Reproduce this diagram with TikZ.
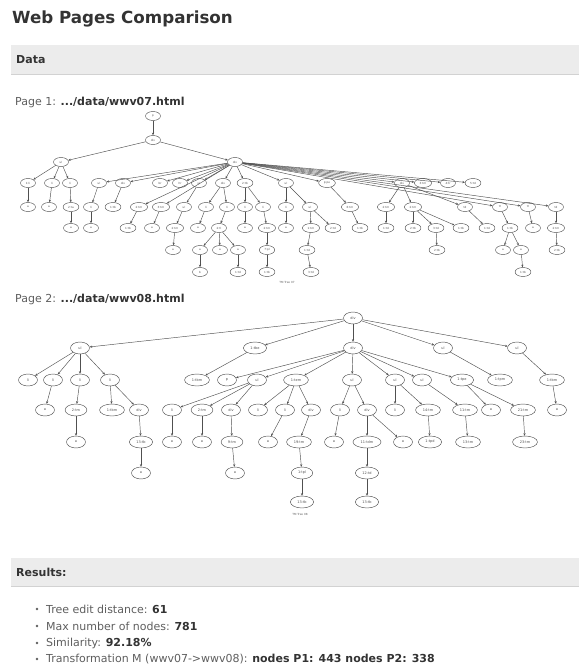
\documentclass[tikz,border=0pt]{standalone}
\usepackage{fontspec}
\setmainfont{DejaVu Sans}
\usetikzlibrary{arrows.meta, shapes.geometric}
\definecolor{wptext}{HTML}{333333}
\definecolor{wpgray}{HTML}{5E5E5E}
\definecolor{wpbar}{HTML}{ECECEC}
\definecolor{wpline}{HTML}{D2D2D2}
\definecolor{wpedge}{HTML}{505050}

\begin{document}
\begin{tikzpicture}[x=1pt, y=-1pt, text=wptext,
     bar/.style={fill=wpbar, draw=none},
     barlbl/.style={anchor=west, font=\fontsize{11}{13}\selectfont\bfseries, inner sep=0pt},
     hdr/.style={anchor=base west, inner sep=0pt, font=\fontsize{11}{13}\selectfont},
     tn/.style={ellipse, draw=wpedge, line width=0.45pt, inner xsep=2.8pt, inner ysep=0.5pt,
                minimum width=15pt, minimum height=9pt, text=wpedge, font=\fontsize{2.8}{3}\selectfont},
     tm/.style={tn, inner xsep=3.6pt, minimum width=19pt, minimum height=12pt, font=\fontsize{3.5}{4}\selectfont},
     e/.style={-{Stealth[length=2.6pt, width=2.2pt]}, line width=0.45pt, wpedge},
     res/.style={anchor=west, inner sep=0pt, text=wpgray, font=\fontsize{11}{13}\selectfont}]
  \useasboundingbox (0,0) rectangle (579,671);

  % heading and data bar
  \node[anchor=base west, inner sep=0pt, font=\fontsize{16.7}{18}\selectfont\bfseries] (title) at (12,24) {Web Pages Comparison};
  \fill[bar] (11,45) rectangle (579,75);
  \draw[wpline] (11,74.5) -- (579,74.5);
  \node[barlbl] (datalbl) at (16,60) {Data};
  \node[hdr] (page1) at (15,106) {\textcolor{wpgray}{Page 1:} \textbf{.../data/wwv07.html}};

  % page 1 tree
  \node[tn] (u0-153) at (153,116) {p};
  \node[tn] (u1-153) at (153,140) {div};
  \foreach \x/\t in {61/ul, 235/div}
    \node[tn] (u2-\x) at (\x,162) {\t};
  \foreach \x/\t in {28/1:li, 52/li, 70/li, 99/ul, 123/div, 160/br, 180/hr, 199/ul, 223/div, 245/2:tb, 286/ul,
                     327/p:pe, 402/div, 423/3:tm, 448/4:tr, 473/5:td}
    \node[tn] (u3-\x) at (\x,183) {\t};
  \foreach \x/\t in {28/a, 49/a, 71/2:ta, 91/li, 113/1:tb, 139/2:tm, 161/3:tm, 184/ul, 206/li, 227/li, 245/li,
                     263/li, 286/li, 310/ul, 350/6:tm, 386/2:tm, 413/2:tm, 465/td, 500/tr, 528/tr, 556/td}
    \node[tn] (u3x-\x) at (\x,207) {\t};
  \foreach \x/\t in {71/a, 91/a, 128/1:tb, 152/a, 175/2:tm, 198/a, 219/2:tl, 245/a, 267/2:tm, 286/a, 311/1:tm,
                     333/2:td, 360/1:tb, 386/1:td, 413/2:tb, 436/3:td, 461/1:tb, 487/1:td, 510/1:tb, 533/a, 556/2:tm}
    \node[tn] (u5-\x) at (\x,228) {\t};
  \foreach \x/\t in {173/a, 200/a, 220/a, 238/a, 267/7:pl, 307/1:td, 437/2:tb, 503/a, 521/a, 557/2:tb}
    \node[tn] (u6-\x) at (\x,250) {\t};
  \foreach \x/\t in {200/b, 238/1:td, 267/1:tb, 311/3:td, 523/1:tb}
    \node[tn] (u7-\x) at (\x,272) {\t};
  \node[inner sep=0pt, text=wpgray, font=\fontsize{2.8}{3}\selectfont] (cap1) at (287,282) {TM Tree 07};

  \foreach \p/\c in {0-153/1-153, 1-153/2-61, 1-153/2-235, 2-61/3-28, 2-61/3-52, 2-61/3-70,
      2-235/3-99, 2-235/3-123, 2-235/3-160, 2-235/3-180, 2-235/3-199, 2-235/3-223, 2-235/3-245,
      2-235/3-286, 2-235/3-327, 2-235/3-402, 2-235/3-423, 2-235/3-448, 2-235/3-473,
      2-235/3x-139, 2-235/3x-161, 2-235/3x-500, 2-235/3x-528, 2-235/3x-556,
      3-28/3x-28, 3-52/3x-49, 3-70/3x-71, 3-99/3x-91, 3-123/3x-113, 3-199/3x-184, 3-223/3x-206,
      3-223/3x-227, 3-245/3x-245, 3-245/3x-263, 3-286/3x-286, 3-286/3x-310, 3-327/3x-350,
      3-402/3x-386, 3-402/3x-413, 3-402/3x-465,
      3x-71/5-71, 3x-91/5-91, 3x-139/5-128, 3x-161/5-152, 3x-184/5-175, 3x-206/5-198, 3x-227/5-219,
      3x-245/5-245, 3x-263/5-267, 3x-286/5-286, 3x-310/5-311, 3x-310/5-333, 3x-350/5-360,
      3x-386/5-386, 3x-413/5-413, 3x-413/5-436, 3x-413/5-461, 3x-465/5-487, 3x-500/5-510,
      3x-528/5-533, 3x-556/5-556,
      5-175/6-173, 5-219/6-200, 5-219/6-220, 5-219/6-238, 5-267/6-267, 5-311/6-307, 5-436/6-437,
      5-510/6-503, 5-510/6-521, 5-556/6-557,
      6-200/7-200, 6-238/7-238, 6-267/7-267, 6-307/7-311, 6-521/7-523}
    \draw[e] (u\p) -- (u\c);

  % page 2 tree
  \node[hdr] (page2) at (15,302) {\textcolor{wpgray}{Page 2:} \textbf{.../data/wwv08.html}};
  \node[tm] (v0-353) at (353,318) {div};
  \foreach \x/\t in {80/ul, 255/1:tbe, 353/div, 443/ul, 517/ul}
    \node[tm] (v1-\x) at (\x,348) {\t};
  \foreach \x/\t in {28/li, 53/li, 80/li, 110/li, 197/1:tbm, 227/p, 257/ul, 296/1:tem, 352/ul, 395/ul,
                     422/ul, 462/1:tpe, 500/1:tpm, 552/1:tbm}
    \node[tm] (v2-\x) at (\x,380) {\t};
  \foreach \x/\t in {45/a, 76/2:tm, 112/1:tbm, 139/div, 172/li, 202/2:tm, 231/div, 258/li, 285/li, 311/div,
                     340/li, 367/div, 395/li, 428/14:tm, 465/11:tm, 491/a, 523/21:tm, 557/a}
    \node[tm] (v3-\x) at (\x,410) {\t};
  \foreach \x/\t in {76/a, 141/13:tb, 172/a, 202/a, 232/9:tm, 268/a, 299/19:tm, 334/a, 367/11:tdm, 403/a,
                     430/1:tpd, 468/13:tm, 525/23:tm}
    \node[tm] (v4-\x) at (\x,442) {\t};
  \foreach \x/\t in {141/a, 235/a, 302/1:tpl, 367/12:td}
    \node[tm] (v5-\x) at (\x,473) {\t};
  \foreach \x/\t in {302/13:tb, 367/13:tb}
    \node[tm] (v6-\x) at (\x,502) {\t};
  \node[inner sep=0pt, text=wpgray, font=\fontsize{2.8}{3}\selectfont] (cap2) at (300,514) {TM Tree 08};

  \foreach \p/\c in {0-353/1-80, 0-353/1-255, 0-353/1-353, 0-353/1-443, 0-353/1-517,
      1-80/2-28, 1-80/2-53, 1-80/2-80, 1-80/2-110, 1-255/2-197,
      1-353/2-227, 1-353/2-257, 1-353/2-296, 1-353/2-352, 1-353/2-395, 1-353/2-422, 1-353/2-462,
      1-443/2-500, 1-517/2-552,
      2-53/3-45, 2-80/3-76, 2-110/3-112, 2-110/3-139, 2-257/3-172, 2-257/3-202, 2-257/3-231,
      2-296/3-258, 2-296/3-285, 2-296/3-311, 2-352/3-340, 2-352/3-367, 2-395/3-395, 2-395/3-428,
      2-422/3-465, 2-462/3-491, 2-462/3-523, 2-552/3-557,
      3-76/4-76, 3-139/4-141, 3-172/4-172, 3-202/4-202, 3-231/4-232, 3-285/4-268, 3-311/4-299,
      3-340/4-334, 3-367/4-367, 3-367/4-403, 3-428/4-430, 3-465/4-468, 3-523/4-525,
      4-141/5-141, 4-232/5-235, 4-299/5-302, 4-367/5-367, 5-302/6-302, 5-367/6-367}
    \draw[e] (v\p) -- (v\c);

  % results
  \fill[bar] (11,558) rectangle (579,587);
  \draw[wpline] (11,586.5) -- (579,586.5);
  \node[barlbl] (reslbl) at (16,572) {Results:};
  \foreach \i/\y/\t in {1/609/{Tree edit distance: \textcolor{wptext}{\textbf{61}}},
                        2/626/{Max number of nodes: \textcolor{wptext}{\textbf{781}}},
                        3/643/{Similarity: \textcolor{wptext}{\textbf{92.18\%}}},
                        4/659/{Transformation M (wwv07->wwv08): \textcolor{wptext}{\textbf{nodes P1: 443 nodes P2: 338}}}} {
    \fill[wpgray] (37,\y) circle (1.4);
    \node[res] (r\i) at (46,\y) {\t};
  }
\end{tikzpicture}
\end{document}
